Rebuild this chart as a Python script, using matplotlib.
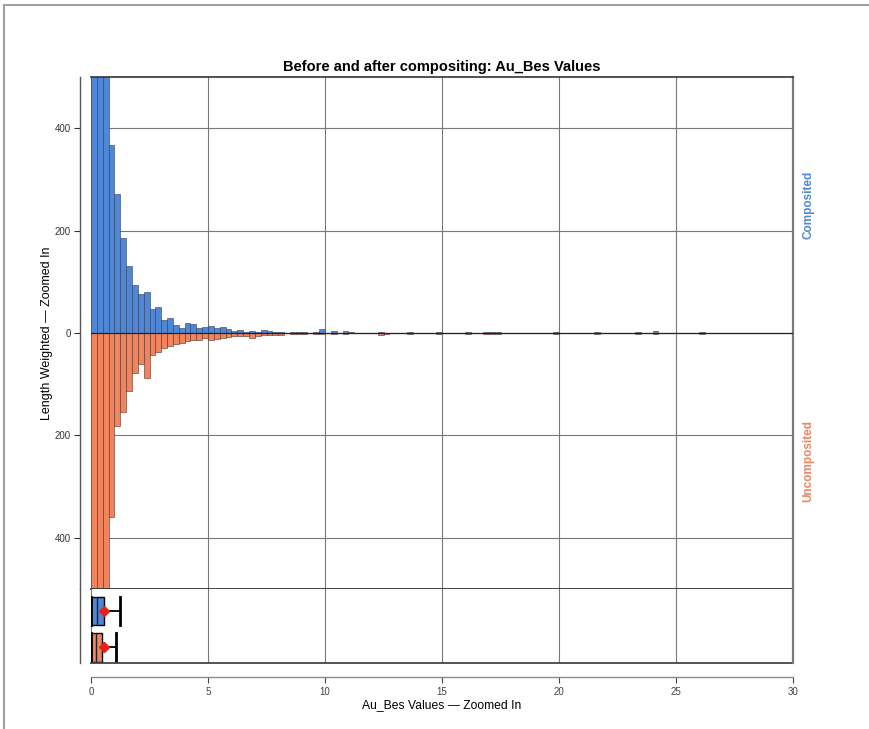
import numpy as np
import matplotlib.pyplot as plt
from matplotlib.lines import Line2D

plt.rcParams['font.family'] = ['Liberation Sans', 'DejaVu Sans']

# histogram bins (left edges, width 0.25) for the dense part 0 - 8
bin_left = [0.0, 0.25, 0.5, 0.75, 1.0, 1.25, 1.5, 1.75, 2.0, 2.25, 2.5, 2.75,
            3.0, 3.25, 3.5, 3.75, 4.0, 4.25, 4.5, 4.75, 5.0, 5.25, 5.5, 5.75,
            6.0, 6.25, 6.5, 6.75, 7.0, 7.25, 7.5, 7.75]
comp_vals = [1150, 1480, 860, 368, 272, 186, 130, 94, 76, 80, 46, 50,
             25, 30, 16, 10, 20, 18, 10, 12, 14, 9, 12, 8,
             4, 5, 2, 3, 2, 6, 3, 1]
uncomp_vals = [1300, 1100, 700, 360, 182, 154, 113, 79, 61, 88, 42, 38,
               29, 25, 22, 19, 16, 14, 14, 10, 14, 12, 10, 8,
               5, 6, 5, 10, 5, 3, 4, 4]

# sparse tail bins
tail_left = [8.0, 8.5, 8.75, 9.0, 9.5, 9.75, 10.25, 10.75, 11.0, 12.25, 12.5,
             13.5, 14.75, 16.0, 16.75, 17.0, 17.25, 19.75, 21.5, 23.25, 24.0, 26.0]
comp_tail = [2, 1, 2, 1, 2, 8, 4, 4, 2, 1, 0,
             2, 2, 1, 2, 2, 2, 2, 1, 2, 3, 1]
uncomp_tail = [3, 2, 1, 2, 1, 1, 1, 1, 0, 4, 2,
               1, 1, 1, 1, 1, 2, 1, 1, 1, 1, 1]

# box plot summaries (composited, uncomposited)
box_names = ['Composited', 'Uncomposited']
box_whislo = [0.0, 0.0]
box_q1 = [0.02, 0.02]
box_med = [0.24, 0.21]
box_q3 = [0.54, 0.48]
box_whishi = [1.22, 1.08]
box_mean = [0.55, 0.57]

blue = '#4f87d6'
orange = '#f0845f'

W, H = 869, 729
fig = plt.figure(figsize=(W / 100, H / 100), dpi=100)

# main histogram axes and box plot strip underneath
ax = fig.add_axes([91 / W, 1 - 589 / H, (793 - 91) / W, (589 - 77) / H])
axb = fig.add_axes([91 / W, 1 - 663 / H, (793 - 91) / W, (663 - 589) / H], sharex=ax)

ax.bar(bin_left, comp_vals, width=0.25, align='edge', color=blue,
       edgecolor='#2a3f5f', linewidth=0.4, zorder=2)
ax.bar(bin_left, [-v for v in uncomp_vals], width=0.25, align='edge', color=orange,
       edgecolor='#5a3020', linewidth=0.4, zorder=2)
ax.bar(tail_left, comp_tail, width=0.25, align='edge', color=blue,
       edgecolor='#2a3f5f', linewidth=0.4, zorder=2)
ax.bar(tail_left, [-v for v in uncomp_tail], width=0.25, align='edge', color=orange,
       edgecolor='#5a3020', linewidth=0.4, zorder=2)

ax.set_xlim(0, 30)
ax.set_ylim(-500, 500)
ax.set_yticks([-400, -200, 0, 200, 400])
ax.set_yticklabels(['400', '200', '0', '200', '400'])
ax.set_xticks([0, 5, 10, 15, 20, 25, 30])
ax.grid(True, color='#777777', linewidth=0.8, zorder=0)
ax.axhline(0, color='#222222', linewidth=0.9, zorder=3)
ax.tick_params(axis='x', bottom=False, labelbottom=False)
ax.tick_params(axis='y', labelsize=7, colors='#333333', length=4, width=0.8, pad=2.5)
ax.set_ylabel('Length Weighted — Zoomed In', fontsize=9, labelpad=1)
ax.set_title('Before and after compositing: Au_Bes Values', fontsize=10.5,
             fontweight='bold', pad=4)

ax.spines['top'].set_color('#333333')
ax.spines['top'].set_linewidth(1.2)
ax.spines['right'].set_color('#7a7a7a')
ax.spines['right'].set_linewidth(1.6)
ax.spines['bottom'].set_color('#333333')
ax.spines['bottom'].set_linewidth(1.3)
ax.spines['left'].set_position(('outward', 8))
ax.spines['left'].set_color('#555555')
ax.spines['left'].set_linewidth(1.0)

ax.text(30.4, 250, 'Composited', rotation=90, color=blue, fontsize=8.5,
        fontweight='bold', va='center', ha='left')
ax.text(30.4, -250, 'Uncomposited', rotation=90, color=orange, fontsize=8.5,
        fontweight='bold', va='center', ha='left')

# box plots
stats = []
for i in range(2):
    stats.append({'label': box_names[i], 'whislo': box_whislo[i], 'q1': box_q1[i],
                  'med': box_med[i], 'q3': box_q3[i], 'whishi': box_whishi[i],
                  'mean': box_mean[i]})
bp = axb.bxp(stats, positions=[1, 0], vert=False, widths=0.8, patch_artist=True,
             showmeans=True, showfliers=False, manage_ticks=False,
             boxprops=dict(edgecolor='black', linewidth=1.0),
             whiskerprops=dict(color='black', linewidth=1.3),
             capprops=dict(color='black', linewidth=2.0),
             medianprops=dict(color='#222222', linewidth=1.0),
             meanprops=dict(marker='D', markerfacecolor='#e02222',
                            markeredgecolor='#e02222', markersize=5),
             capwidths=0.8)
bp['boxes'][0].set_facecolor(blue)
bp['boxes'][1].set_facecolor(orange)

axb.set_ylim(-0.44, 1.61)
axb.set_yticks([])
axb.grid(True, axis='x', color='#777777', linewidth=0.8, zorder=0)
axb.set_axisbelow(True)
axb.spines['top'].set_visible(False)
axb.spines['right'].set_color('#7a7a7a')
axb.spines['right'].set_linewidth(1.6)
axb.spines['left'].set_position(('outward', 8))
axb.spines['left'].set_color('#555555')
axb.spines['left'].set_linewidth(1.0)
axb.spines['bottom'].set_position(('outward', 10))
axb.spines['bottom'].set_color('#8a8a8a')
axb.spines['bottom'].set_linewidth(1.0)
axb.axhline(-0.44, color='#444444', linewidth=1.3, clip_on=False)
axb.tick_params(axis='x', labelsize=7, colors='#444444', length=4, width=0.8, pad=3)
axb.set_xlabel('Au_Bes Values — Zoomed In', fontsize=8.7, labelpad=2)
axb.set_xlim(0, 30)

# screenshot frame lines at top and left
fig.add_artist(Line2D([4 / W, 1], [1 - 5 / H, 1 - 5 / H], color='#a0a0a0', linewidth=1.5))
fig.add_artist(Line2D([4 / W, 4 / W], [0, 1 - 5 / H], color='#a0a0a0', linewidth=1.5))

fig.savefig('out.png', dpi=100)
